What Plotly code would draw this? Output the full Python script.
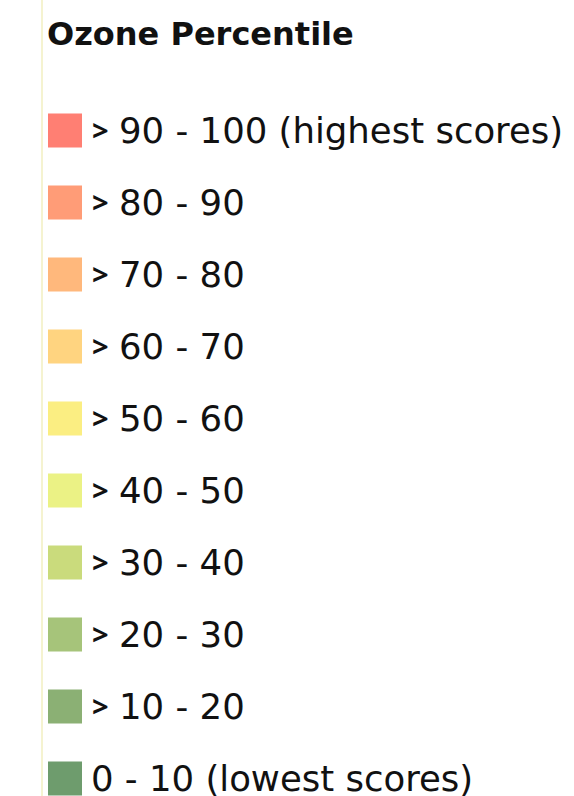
import plotly.graph_objects as go

# Legend classes for the ozone percentile map
title = "Ozone Percentile"
labels = [
    "> 90 - 100 (highest scores)",
    "> 80 - 90",
    "> 70 - 80",
    "> 60 - 70",
    "> 50 - 60",
    "> 40 - 50",
    "> 30 - 40",
    "> 20 - 30",
    "> 10 - 20",
    "0 - 10 (lowest scores)",
]
colors = [
    "#FF7F73", "#FF9C77", "#FFB87C", "#FFD480", "#FBEE82",
    "#EBF285", "#CADB7C", "#A6C47A", "#8BB074", "#6E9C6D",
]

W, H = 574, 796
row0, step = 130.5, 72
ys = [row0 + step * i for i in range(len(labels))]

fig = go.Figure()

# colour swatches
fig.add_trace(go.Scatter(
    x=[65] * len(labels), y=ys, mode="markers",
    marker=dict(symbol="square", size=34, color=colors, line=dict(width=0)),
    hoverinfo="skip", showlegend=False,
))

font = "DejaVu Sans, sans-serif"
for y, lab in zip(ys, labels):
    if lab.startswith(">"):
        fig.add_annotation(x=90, y=y - 1, text="<b>&gt;</b>", showarrow=False,
                           xanchor="left", yanchor="middle",
                           font=dict(family="Open Sans, sans-serif", size=29,
                                     color="#111"))
        fig.add_annotation(x=117, y=y, text=lab[2:], showarrow=False,
                           xanchor="left", yanchor="middle",
                           font=dict(family=font, size=35.5, color="#111"))
    else:
        fig.add_annotation(x=89, y=y, text=lab, showarrow=False,
                           xanchor="left", yanchor="middle",
                           font=dict(family=font, size=35.5, color="#111"))

fig.add_annotation(x=45, y=34, text="<b>" + title + "</b>", showarrow=False,
                   xanchor="left", yanchor="middle",
                   font=dict(family=font, size=32, color="#111"))

# faint map boundary running down the left edge
fig.add_shape(type="line", x0=42, x1=42, y0=0, y1=H,
              line=dict(color="#F2EFC0", width=1.5), layer="below")

fig.update_layout(
    width=W, height=H, margin=dict(l=0, r=0, t=0, b=0),
    paper_bgcolor="white", plot_bgcolor="white",
    xaxis=dict(range=[0, W], visible=False, fixedrange=True),
    yaxis=dict(range=[H, 0], visible=False, fixedrange=True),
)

fig.write_html("out.html")
